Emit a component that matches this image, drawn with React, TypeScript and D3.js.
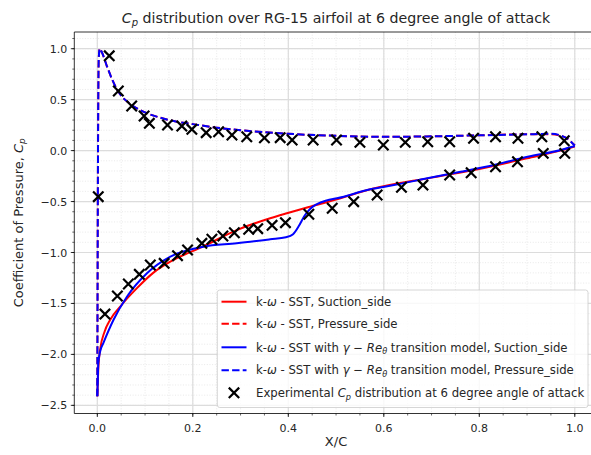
import React from 'react';
import * as d3 from 'd3';

const W = 591;
const H = 455;

// k-omega SST, suction side
const sstSuctionX = [0, 0.002, 0.006, 0.015, 0.027, 0.048, 0.083, 0.117, 0.153, 0.222, 0.292, 0.362, 0.397, 0.446, 0.502, 0.572, 0.7, 0.8, 0.9, 0.97, 1.0];
const sstSuctionCp = [-2.41, -2.15, -1.95, -1.78, -1.66, -1.53, -1.35, -1.2, -1.09, -0.94, -0.78, -0.664, -0.615, -0.55, -0.478, -0.38, -0.265, -0.18, -0.075, 0.0, 0.04];

// k-omega SST, pressure side
const sstPressureX = [0, 0.001, 0.003, 0.005, 0.01, 0.02, 0.03, 0.04, 0.05, 0.07, 0.1, 0.13, 0.16, 0.2, 0.25, 0.3, 0.35, 0.4, 0.5, 0.6, 0.7, 0.8, 0.9, 0.95, 0.98, 1.0];
const sstPressureCp = [-2.41, -0.6, 0.9, 1.0, 0.96, 0.83, 0.71, 0.61, 0.54, 0.455, 0.375, 0.325, 0.29, 0.26, 0.225, 0.2, 0.18, 0.165, 0.145, 0.135, 0.14, 0.15, 0.16, 0.16, 0.13, 0.05];

// k-omega SST with gamma-Re_theta transition, suction side
const trSuctionX = [0, 0.001, 0.002, 0.006, 0.0126, 0.034, 0.062, 0.104, 0.153, 0.222, 0.292, 0.362, 0.395, 0.41, 0.422, 0.434, 0.446, 0.46, 0.48, 0.502, 0.572, 0.621, 0.691, 0.761, 0.831, 0.901, 0.971, 1.0];
const trSuctionCp = [-2.41, -2.25, -2.09, -1.97, -1.89, -1.66, -1.434, -1.204, -1.041, -0.943, -0.91, -0.87, -0.85, -0.82, -0.74, -0.64, -0.57, -0.525, -0.49, -0.468, -0.38, -0.338, -0.272, -0.207, -0.141, -0.06, 0.006, 0.045];

// k-omega SST with gamma-Re_theta transition, pressure side
const trPressureX = [0, 0.001, 0.003, 0.005, 0.01, 0.02, 0.03, 0.04, 0.05, 0.07, 0.1, 0.13, 0.16, 0.2, 0.25, 0.3, 0.35, 0.4, 0.5, 0.6, 0.7, 0.8, 0.9, 0.95, 0.98, 1.0];
const trPressureCp = [-2.41, -0.6, 0.9, 1.0, 0.96, 0.83, 0.71, 0.61, 0.54, 0.455, 0.375, 0.325, 0.29, 0.26, 0.225, 0.2, 0.18, 0.165, 0.145, 0.135, 0.14, 0.15, 0.16, 0.165, 0.13, 0.05];

// Experimental Cp
const expX = [0.002, 0.025, 0.044, 0.072, 0.098, 0.109, 0.147, 0.177, 0.198, 0.228, 0.254, 0.282, 0.313, 0.35, 0.383, 0.408, 0.452, 0.501, 0.55, 0.599, 0.645, 0.692, 0.738, 0.788, 0.834, 0.881, 0.931, 0.978,
  0.016, 0.042, 0.065, 0.088, 0.111, 0.14, 0.168, 0.189, 0.219, 0.24, 0.263, 0.287, 0.317, 0.336, 0.366, 0.394, 0.443, 0.492, 0.537, 0.586, 0.637, 0.682, 0.738, 0.783, 0.834, 0.88, 0.934, 0.979];
const expCp = [-0.452, 0.93, 0.585, 0.438, 0.34, 0.268, 0.251, 0.241, 0.209, 0.176, 0.185, 0.153, 0.136, 0.125, 0.127, 0.104, 0.104, 0.104, 0.081, 0.055, 0.081, 0.087, 0.087, 0.121, 0.136, 0.121, 0.136, 0.097,
  -1.604, -1.427, -1.309, -1.214, -1.123, -1.106, -1.031, -0.975, -0.91, -0.87, -0.838, -0.806, -0.773, -0.766, -0.733, -0.707, -0.625, -0.566, -0.501, -0.436, -0.36, -0.338, -0.239, -0.217, -0.158, -0.109, -0.027, -0.027];

const xTicks = [0, 0.2, 0.4, 0.6, 0.8, 1.0];
const yTicks = [-2.5, -2.0, -1.5, -1.0, -0.5, 0.0, 0.5, 1.0];

const FONT = 'DejaVu Sans, sans-serif';

const left = 74.3, right = 597.8, top = 32, bottom = 413.5;

function fmt(v: number) {
  const s = v.toFixed(1);
  return s.replace('-', '\u2212');
}

export default function App() {
  const x = d3.scaleLinear().domain([-0.0482, 1.0482]).range([left, right]);
  const y = d3.scaleLinear().domain([-2.58, 1.164]).range([bottom, top]);

  const line = d3.line<[number, number]>()
    .x(d => x(d[0]))
    .y(d => y(d[1]))
    .curve(d3.curveMonotoneX);

  const zip = (a: number[], b: number[]) => a.map((v, i) => [v, b[i]] as [number, number]);

  const xMinor = d3.range(-0.05, 1.051, 0.05).filter(v => x(v) >= left - 0.1 && x(v) <= right + 0.1);
  const yMinor = d3.range(-2.5, 1.101, 0.1).filter(v => y(v) >= top && y(v) <= bottom);

  const dash = '7.4,3.2';
  const lw = 2;

  const legendRows = [
    { type: 'line', color: '#ff0000', dashed: false },
    { type: 'line', color: '#ff0000', dashed: true },
    { type: 'line', color: '#0000ff', dashed: false },
    { type: 'line', color: '#0000ff', dashed: true },
    { type: 'marker' },
  ];
  const rowY = [301.7, 323.8, 347.3, 370.2, 392.8];

  const LF = 11.7;
  const SUB = 8.2;
  const omega = <tspan fontStyle="italic">ω</tspan>;
  const labelFor = (i: number) => {
    switch (i) {
      case 0: return <>k-{omega} - SST, Suction_side</>;
      case 1: return <>k-{omega} - SST, Pressure_side</>;
      case 2: return <>k-{omega} - SST with <tspan fontStyle="italic">γ</tspan> − <tspan fontStyle="italic">Re</tspan><tspan fontStyle="italic" fontSize={SUB} dy="2.5">θ</tspan><tspan dy="-2.5"> transition model, Suction_side</tspan></>;
      case 3: return <>k-{omega} - SST with <tspan fontStyle="italic">γ</tspan> − <tspan fontStyle="italic">Re</tspan><tspan fontStyle="italic" fontSize={SUB} dy="2.5">θ</tspan><tspan dy="-2.5"> transition model, Pressure_side</tspan></>;
      default: return <>Experimental <tspan fontStyle="italic">C</tspan><tspan fontStyle="italic" fontSize={SUB} dy="2.5">p</tspan><tspan dy="-2.5"> distribution at 6 degree angle of attack</tspan></>;
    }
  };

  const xMark = (cx: number, cy: number, r: number, key: any) => (
    <path key={key} d={`M${cx - r},${cy - r}L${cx + r},${cy + r}M${cx - r},${cy + r}L${cx + r},${cy - r}`} stroke="#000" strokeWidth={2.2} fill="none" />
  );

  return (
    <svg width={W} height={H} style={{ position: 'absolute', left: 0, top: 0, background: '#fff' }} fontFamily={FONT}>
      <rect x={0} y={0} width={W} height={H} fill="#fff" />
      <defs>
        <clipPath id="plotclip">
          <rect x={left} y={top} width={right - left} height={bottom - top} />
        </clipPath>
      </defs>
      {/* minor grid */}
      <g stroke="#e3e3e3" strokeWidth={0.8} strokeDasharray="1,1.65">
        {xMinor.map((v, i) => <line key={'xm' + i} x1={x(v)} x2={x(v)} y1={top} y2={bottom} />)}
        {yMinor.map((v, i) => <line key={'ym' + i} x1={left} x2={right} y1={y(v)} y2={y(v)} />)}
      </g>
      {/* major grid */}
      <g stroke="#dcdcdc" strokeWidth={1.2}>
        {xTicks.map((v, i) => <line key={'xg' + i} x1={x(v)} x2={x(v)} y1={top} y2={bottom} />)}
        {yTicks.map((v, i) => <line key={'yg' + i} x1={left} x2={right} y1={y(v)} y2={y(v)} />)}
      </g>
      <g clipPath="url(#plotclip)" fill="none" strokeWidth={lw}>
        <path d={line(zip(sstSuctionX, sstSuctionCp)) || ''} stroke="#ff0000" />
        <path d={line(zip(sstPressureX, sstPressureCp)) || ''} stroke="#ff0000" strokeDasharray={dash} />
        <path d={line(zip(trSuctionX, trSuctionCp)) || ''} stroke="#0000ff" />
        <path d={line(zip(trPressureX, trPressureCp)) || ''} stroke="#0000ff" strokeDasharray={dash} />
        {expX.map((v, i) => xMark(x(v), y(expCp[i]), 5.2, 'e' + i))}
      </g>
      {/* spines */}
      <g stroke="#000" strokeWidth={0.8} fill="none">
        <line x1={left} x2={left} y1={top} y2={bottom} />
        <line x1={left} x2={right} y1={bottom} y2={bottom} />
        <line x1={left} x2={right} y1={top} y2={top} />
        <line x1={right} x2={right} y1={top} y2={bottom} />
      </g>
      {/* ticks */}
      <g stroke="#000" strokeWidth={0.8}>
        {xTicks.map((v, i) => <line key={'xt' + i} x1={x(v)} x2={x(v)} y1={bottom} y2={bottom + 3.5} />)}
        {xMinor.map((v, i) => <line key={'xmt' + i} x1={x(v)} x2={x(v)} y1={bottom} y2={bottom + 2} strokeWidth={0.6} />)}
        {yTicks.map((v, i) => <line key={'yt' + i} x1={left - 3.5} x2={left} y1={y(v)} y2={y(v)} />)}
        {yMinor.map((v, i) => <line key={'ymt' + i} x1={left - 2} x2={left} y1={y(v)} y2={y(v)} strokeWidth={0.6} />)}
      </g>
      <g fontSize={11} fill="#262626">
        {xTicks.map((v, i) => <text key={'xl' + i} x={x(v)} y={bottom + 18} textAnchor="middle">{fmt(v)}</text>)}
        {yTicks.map((v, i) => <text key={'yl' + i} x={left - 7} y={y(v) + 4} textAnchor="end">{fmt(v)}</text>)}
      </g>
      {/* axis labels */}
      <text x={(left + right) / 2} y={446} textAnchor="middle" fontSize={13} fill="#262626">X/C</text>
      <text transform={`translate(22.5,${(top + bottom) / 2}) rotate(-90)`} textAnchor="middle" fontSize={13} fill="#262626">
        Coefficient of Pressure, <tspan fontStyle="italic">C</tspan><tspan fontStyle="italic" fontSize="9" dy="2.8">p</tspan>
      </text>
      {/* title */}
      <text x={(left + right) / 2} y={23} textAnchor="middle" fontSize={14.2} fill="#262626">
        <tspan fontStyle="italic">C</tspan><tspan fontStyle="italic" fontSize="10" dy="3">p</tspan><tspan dy="-3"> distribution over RG-15 airfoil at 6 degree angle of attack</tspan>
      </text>
      {/* legend */}
      <rect x={217.3} y={290} width={370.7} height={117.5} rx={2.5} fill="#fff" fillOpacity={0.8} stroke="#cccccc" strokeWidth={0.8} />
      {legendRows.map((r, i) => (
        <g key={'lg' + i}>
          {r.type === 'line'
            ? <line x1={221.5} x2={246.5} y1={rowY[i]} y2={rowY[i]} stroke={r.color} strokeWidth={lw} strokeDasharray={r.dashed ? dash : undefined} />
            : xMark(234, rowY[i], 5.2, 'lm')}
          <text x={256} y={rowY[i] + 4.2} fontSize={LF} fill="#262626">{labelFor(i)}</text>
        </g>
      ))}
    </svg>
  );
}
